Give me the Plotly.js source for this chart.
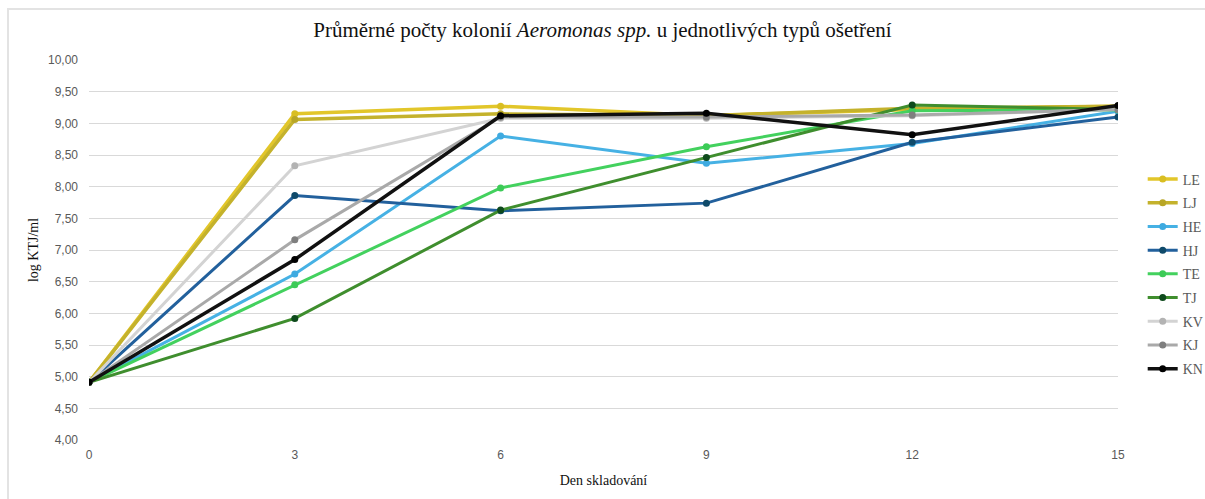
<!DOCTYPE html>
<html>
<head>
<meta charset="utf-8">
<script src="https://cdn.plot.ly/plotly-3.0.1.min.js"></script>
<style>
  html, body { margin: 0; padding: 0; background: #fff; overflow: hidden; }
  #wrap { position: relative; width: 1205px; height: 499px; overflow: hidden; }
  #chart { position: absolute; left: 0; top: 0; width: 1205px; height: 499px; }
  #hline { position: absolute; left: 7px; top: 8px; width: 1198px; height: 2px; background: #e3e3e3; pointer-events: none; }
  #vline { position: absolute; left: 7px; top: 8px; width: 2px; height: 491px; background: #e3e3e3; pointer-events: none; }
</style>
</head>
<body>
<div id="wrap">
  <div id="chart"></div>
  <div id="hline"></div>
  <div id="vline"></div>
</div>
<script>
const days = [0, 3, 6, 9, 12, 15];
const seriesNames = ["LE", "LJ", "HE", "HJ", "TE", "TJ", "KV", "KJ", "KN"];
const LE = [4.91, 9.15, 9.27, 9.12, 9.22, 9.27];
const LJ = [4.91, 9.06, 9.15, 9.12, 9.24, 9.27];
const HE = [4.91, 6.62, 8.80, 8.37, 8.68, 9.19];
const HJ = [4.91, 7.86, 7.62, 7.74, 8.70, 9.10];
const TE = [4.91, 6.45, 7.98, 8.63, 9.20, 9.21];
const TJ = [4.91, 5.92, 7.63, 8.46, 9.29, 9.22];
const KV = [4.91, 8.33, 9.08, 9.08, 9.12, 9.22];
const KJ = [4.91, 7.16, 9.10, 9.10, 9.13, 9.22];
const KN = [4.91, 6.85, 9.12, 9.16, 8.82, 9.28];
const yTickVals = [4.0, 4.5, 5.0, 5.5, 6.0, 6.5, 7.0, 7.5, 8.0, 8.5, 9.0, 9.5, 10.0];
const xTickVals = [0, 3, 6, 9, 12, 15];

const values = [LE, LJ, HE, HJ, TE, TJ, KV, KJ, KN];
const lineColors = ["#E2C62A", "#C4B22C", "#46B1E4", "#22609C", "#43D15E", "#3F8E2E", "#D3D3D3", "#A9A9A9", "#111111"];
const markerColors = ["#D9BE22", "#B8A626", "#3EAAE0", "#0F4A6A", "#3CCB57", "#0E4A1C", "#B3B3B3", "#7F7F7F", "#000000"];
const widths = [3.5, 3.5, 3, 3, 3, 3, 3, 3, 3.5];

const traces = seriesNames.map((name, i) => ({
  type: "scatter",
  mode: "lines+markers",
  name: name,
  legendgroup: name,
  x: days,
  y: values[i],
  line: { color: lineColors[i], width: widths[i] },
  marker: { color: markerColors[i], size: 7 },
  hoverinfo: "skip"
}));

const layout = {
  width: 1205,
  height: 499,
  margin: { l: 89, r: 87, t: 60, b: 59, autoexpand: false },
  paper_bgcolor: "#ffffff",
  plot_bgcolor: "#ffffff",
  separators: ",.",
  showlegend: true,
  title: {
    text: "Průměrné počty kolonií <i>Aeromonas spp.</i> u jednotlivých typů ošetření",
    font: { family: "Liberation Serif, Times New Roman, serif", size: 21, color: "#111111" },
    x: 0.5, xanchor: "center", y: 0.94, yanchor: "middle"
  },
  xaxis: {
    range: [0, 15],
    tickvals: xTickVals,
    ticktext: xTickVals.map(String),
    showgrid: false,
    zeroline: false,
    showline: false,
    ticks: "",
    ticklen: 0,
    automargin: false,
    ticklabelstandoff: 6,
    tickfont: { family: "Liberation Sans, Arial, sans-serif", size: 12, color: "#595959" },
    title: { text: "Den skladování", font: { family: "Liberation Serif, Times New Roman, serif", size: 14, color: "#111111" }, standoff: 14 }
  },
  yaxis: {
    range: [4.0, 10.0],
    tickvals: yTickVals,
    tickformat: ".2f",
    showgrid: true,
    gridcolor: "#D9D9D9",
    gridwidth: 1,
    zeroline: false,
    showline: false,
    ticks: "",
    automargin: false,
    ticklabelstandoff: 10,
    tickfont: { family: "Liberation Sans, Arial, sans-serif", size: 12, color: "#595959" },
    title: { text: "log KTJ/ml", font: { family: "Liberation Serif, Times New Roman, serif", size: 14, color: "#111111" }, standoff: 6 }
  },
  legend: {
    x: 1.024, xanchor: "left",
    y: 0.437, yanchor: "middle",
    traceorder: "grouped",
    tracegroupgap: 2.5,
    itemwidth: 30,
    font: { family: "Liberation Serif, Times New Roman, serif", size: 14, color: "#595959" },
    bgcolor: "rgba(0,0,0,0)"
  }
};

Plotly.newPlot("chart", traces, layout, { displayModeBar: false, staticPlot: true });
</script>
</body>
</html>
